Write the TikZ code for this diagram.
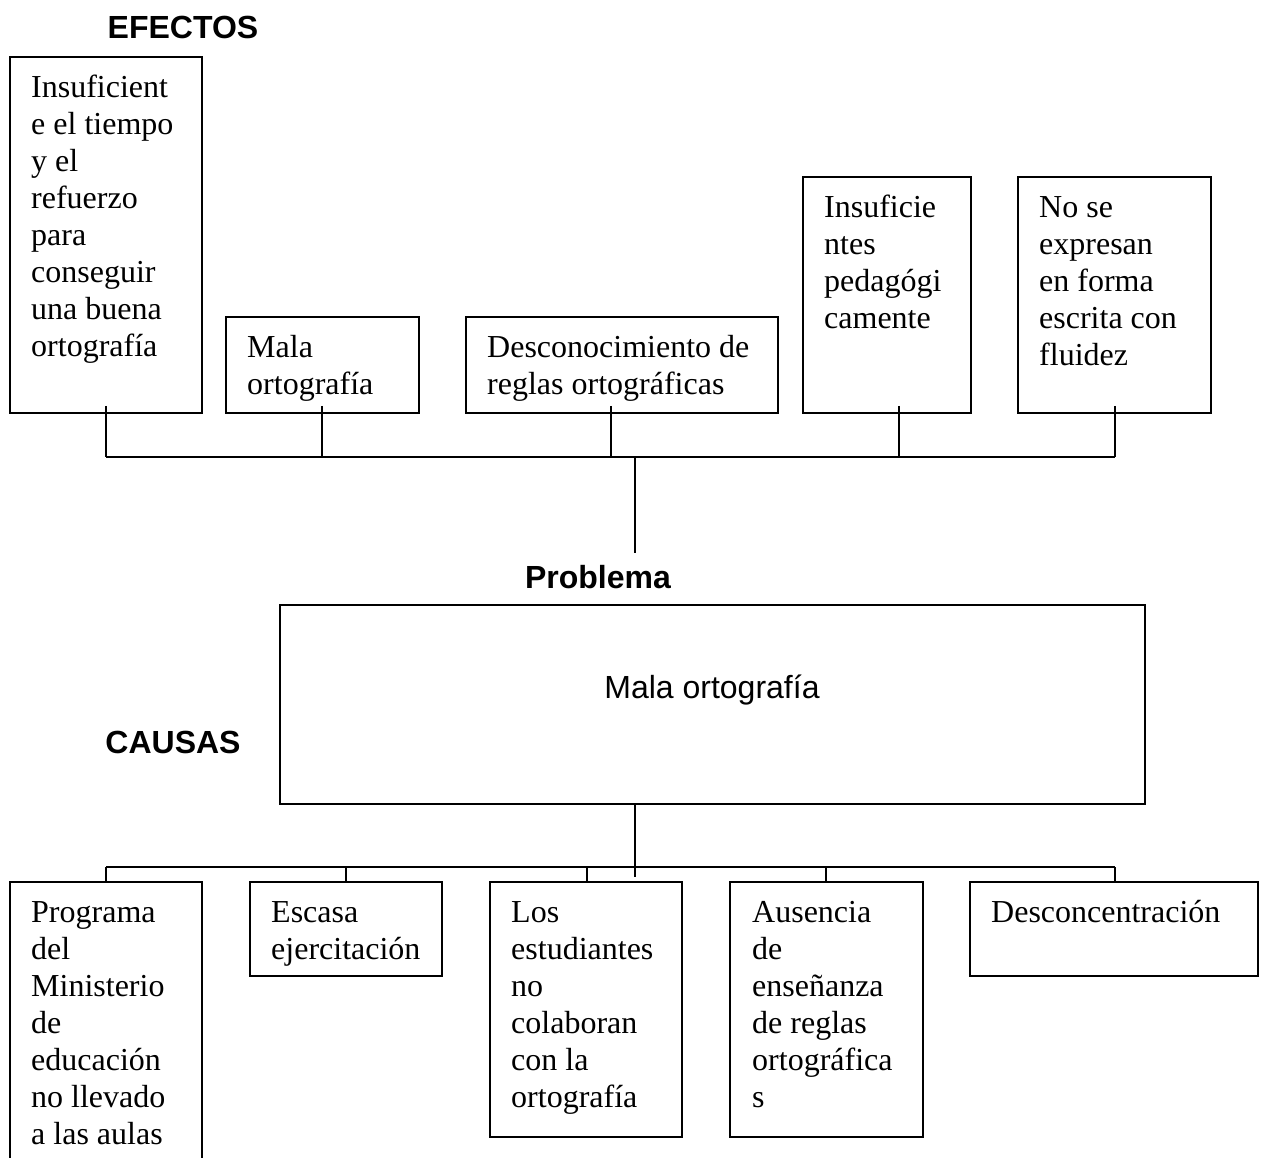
\documentclass[tikz,border=0pt]{standalone}
\usepackage{fontspec}
\newfontfamily\tnr{Liberation Serif}
\newfontfamily\ars{Liberation Sans}
\begin{document}
\begin{tikzpicture}[x=1pt,y=-1pt,
  boxline/.style={draw=black,line width=1.6pt},
  txt/.style={anchor=north west,inner sep=0pt,align=left,
    font=\tnr\fontsize{32}{37}\selectfont},
  head/.style={inner sep=0pt,font=\ars\bfseries\fontsize{32}{37}\selectfont},
  conn/.style={draw=black,line width=1.6pt}]
\clip (0,0) rectangle (1262,1158);
\fill[white] (0,0) rectangle (1262,1158);

% headings
\node[head] (efectos) at (183,27) {EFECTOS};
\node[head] (problema) at (598,577) {Problema};
\node[head] (causas) at (173,742) {CAUSAS};

% top boxes
\draw[boxline] (10,57) rectangle (202,413);
\coordinate (b1) at (106,406);
\node[txt] (t1) at (31,71) {\strut Insuficient\\e el tiempo\\y el\\refuerzo\\para\\conseguir\\una buena\\ortografía};

\draw[boxline] (226,317) rectangle (419,413);
\coordinate (b2) at (322,406);
\node[txt] (t2) at (247,331) {\strut Mala\\ortografía};

\draw[boxline] (466,317) rectangle (778,413);
\coordinate (b3) at (611,406);
\node[txt] (t3) at (487,331) {\strut Desconocimiento de\\reglas ortográficas};

\draw[boxline] (803,177) rectangle (971,413);
\coordinate (b4) at (899,406);
\node[txt] (t4) at (824,191) {\strut Insuficie\\ntes\\pedagógi\\camente};

\draw[boxline] (1018,177) rectangle (1211,413);
\coordinate (b5) at (1115,406);
\node[txt] (t5) at (1039,191) {\strut No se\\expresan\\en forma\\escrita con\\fluidez};

% top connectors
\coordinate (bl) at (106,457);
\coordinate (br) at (1115,457);
\coordinate (bm) at (635,457);
\coordinate (pm) at (635,553);
\draw[conn] (b1) -- (bl);
\draw[conn] (b2) -- (322,457);
\draw[conn] (b3) -- (611,457);
\draw[conn] (b4) -- (899,457);
\draw[conn] (b5) -- (br);
\draw[conn] (bl) -- (br);
\draw[conn] (bm) -- (pm);

% problem box
\draw[boxline] (280,605) rectangle (1145,804);
\node[inner sep=0pt,font=\ars\fontsize{32}{37}\selectfont] (prob) at (712,690) {Mala ortografía};

% bottom connectors
\coordinate (pb) at (635,804);
\coordinate (pe) at (635,877);
\coordinate (cl) at (106,867);
\coordinate (cr) at (1115,867);
\draw[conn] (pb) -- (pe);
\draw[conn] (cl) -- (cr);
\draw[conn] (cl) -- (106,882);
\draw[conn] (346,867) -- (346,882);
\draw[conn] (587,867) -- (587,882);
\draw[conn] (826,867) -- (826,882);
\draw[conn] (cr) -- (1115,882);

% bottom boxes
\draw[boxline] (10,882) rectangle (202,1175);
\node[txt] (c1) at (31,896) {\strut Programa\\del\\Ministerio\\de\\educación\\no llevado\\a las aulas};

\draw[boxline] (250,882) rectangle (442,976);
\node[txt] (c2) at (271,896) {\strut Escasa\\ejercitación};

\draw[boxline] (490,882) rectangle (682,1137);
\node[txt] (c3) at (511,896) {\strut Los\\estudiantes\\no\\colaboran\\con la\\ortografía};

\draw[boxline] (730,882) rectangle (923,1137);
\node[txt] (c4) at (752,896) {\strut Ausencia\\de\\enseñanza\\de reglas\\ortográfica\\s};

\draw[boxline] (970,882) rectangle (1258,976);
\node[txt] (c5) at (991,896) {\strut Desconcentración};
\end{tikzpicture}
\end{document}
